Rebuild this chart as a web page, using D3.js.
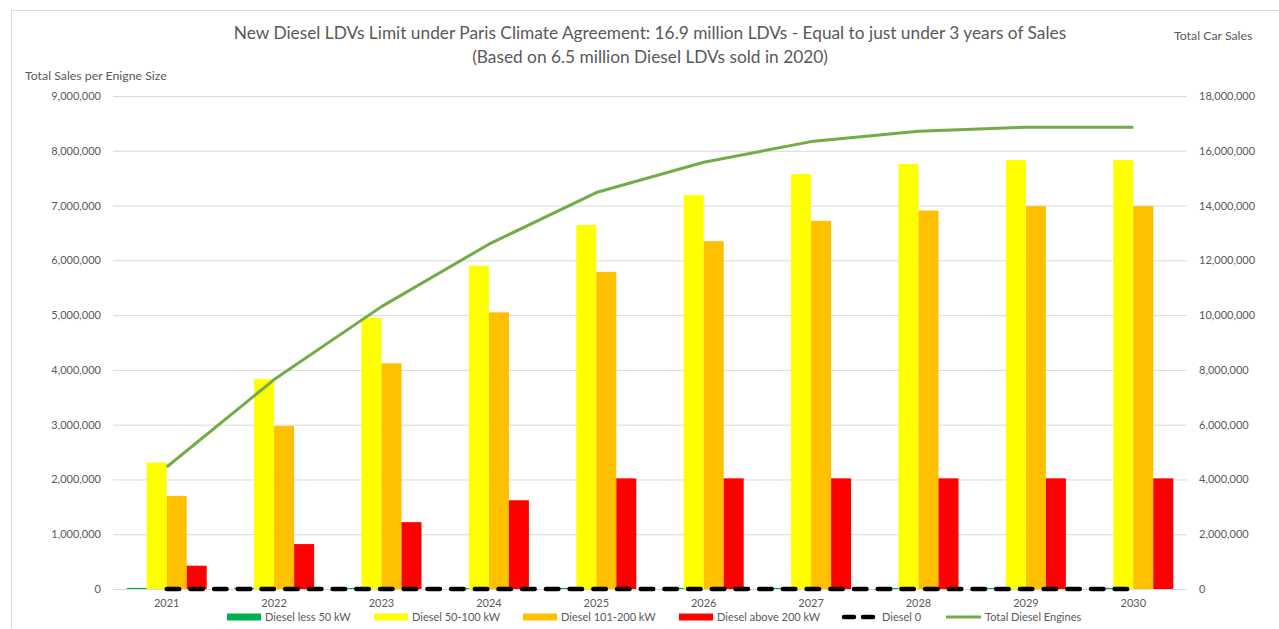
<!DOCTYPE html>
<html>
<head>
<meta charset="utf-8">
<script src="https://cdn.jsdelivr.net/npm/d3@7/dist/d3.min.js"></script>
<style>
  html, body { margin: 0; padding: 0; background: #fff; }
  svg { display: block; }
  text { font-family: Lato, "Open Sans", "DejaVu Sans", sans-serif; fill: #595959; }
</style>
</head>
<body>
<svg id="chart" width="1279" height="629"></svg>
<script>
// Model years on the category axis
const years = ["2021", "2022", "2023", "2024", "2025", "2026", "2027", "2028", "2029", "2030"];

// Cumulative new diesel LDV sales by engine power class
const dieselLess50 = [20000, 20000, 20000, 20000, 20000, 20000, 20000, 20000, 20000, 20000];
const diesel50to100 = [2310000, 3830000, 4950000, 5900000, 6645000, 7190000, 7575000, 7760000, 7830000, 7830000];
const diesel101to200 = [1700000, 2975000, 4120000, 5050000, 5790000, 6350000, 6720000, 6910000, 6990000, 6990000];
const dieselAbove200 = [425000, 820000, 1220000, 1620000, 2020000, 2020000, 2020000, 2020000, 2020000, 2020000];
const diesel0 = [0, 0, 0, 0, 0, 0, 0, 0, 0, 0];

// Cumulative total of all diesel engines (secondary axis)
const totalDiesel = [4455000, 7645000, 10310000, 12590000, 14475000, 15580000, 16335000, 16710000, 16860000, 16860000];

// Axis ticks
const leftTicks = [0, 1000000, 2000000, 3000000, 4000000, 5000000, 6000000, 7000000, 8000000, 9000000];
const rightTicks = [0, 2000000, 4000000, 6000000, 8000000, 10000000, 12000000, 14000000, 16000000, 18000000];

const titleLines = [
  "New Diesel LDVs Limit under Paris Climate Agreement: 16.9 million LDVs - Equal to just under 3 years of Sales",
  "(Based on 6.5 million Diesel LDVs sold in 2020)"
];

const barSeries = [
  { name: "Diesel less 50 kW", values: dieselLess50, color: "#00B050" },
  { name: "Diesel 50-100 kW", values: diesel50to100, color: "#FFFF00" },
  { name: "Diesel 101-200 kW", values: diesel101to200, color: "#FFC000" },
  { name: "Diesel above 200 kW", values: dieselAbove200, color: "#FF0000" }
];

const svg = d3.select("#chart");
const plot = { left: 113, right: 1187, top: 96, bottom: 589 };

// Chart frame
svg.append("rect")
  .attr("x", 11.5).attr("y", 10.5)
  .attr("width", 1300).attr("height", 700)
  .attr("fill", "none").attr("stroke", "#d9d9d9");

const x0 = d3.scaleBand().domain(years).range([plot.left, plot.right])
  .paddingInner(0.255).paddingOuter(0.1275);
const x1 = d3.scaleBand().domain(barSeries.map(s => s.name)).range([0, x0.bandwidth()]);
const yLeft = d3.scaleLinear().domain([0, 9000000]).range([plot.bottom, plot.top]);
const yRight = d3.scaleLinear().domain([0, 18000000]).range([plot.bottom, plot.top]);
const xCenter = d => x0(d) + x0.bandwidth() / 2;

// Horizontal gridlines
svg.append("g")
  .attr("transform", `translate(${plot.left},0)`)
  .call(d3.axisLeft(yLeft).tickValues(leftTicks).tickSize(-(plot.right - plot.left)).tickFormat(""))
  .call(g => g.select(".domain").remove())
  .call(g => g.selectAll("line").attr("stroke", "#d9d9d9").attr("stroke-width", 1));

// Left axis labels
svg.append("g")
  .attr("transform", `translate(${plot.left - 12},0)`)
  .call(d3.axisLeft(yLeft).tickValues(leftTicks).tickSize(0).tickPadding(0).tickFormat(d3.format(",")))
  .call(g => g.select(".domain").remove())
  .call(g => g.selectAll("text").attr("font-size", 11).attr("fill", "#595959")
    .style("font-family", "Lato, 'Open Sans', sans-serif"));

// Right axis labels
svg.append("g")
  .attr("transform", `translate(${plot.right + 12},0)`)
  .call(d3.axisRight(yRight).tickValues(rightTicks).tickSize(0).tickPadding(0).tickFormat(d3.format(",")))
  .call(g => g.select(".domain").remove())
  .call(g => g.selectAll("text").attr("font-size", 11).attr("fill", "#595959")
    .style("font-family", "Lato, 'Open Sans', sans-serif"));

// Category labels
svg.append("g")
  .attr("transform", `translate(0,${plot.bottom + 10})`)
  .call(d3.axisBottom(x0).tickSize(0).tickPadding(0))
  .call(g => g.select(".domain").remove())
  .call(g => g.selectAll("text").attr("font-size", 11).attr("fill", "#595959")
    .attr("dy", "0.71em").style("font-family", "Lato, 'Open Sans', sans-serif"));

// Clustered bars
const groups = svg.append("g").selectAll("g")
  .data(barSeries).join("g")
  .attr("fill", d => d.color);
groups.selectAll("rect")
  .data(s => s.values.map((v, i) => ({ name: s.name, year: years[i], value: v })))
  .join("rect")
  .attr("x", d => x0(d.year) + x1(d.name))
  .attr("width", x1.bandwidth())
  .attr("y", d => yLeft(d.value))
  .attr("height", d => yLeft(0) - yLeft(d.value));

// Diesel 0 dashed series
const lineLeft = d3.line().x((d, i) => xCenter(years[i])).y(d => yLeft(d));
svg.append("path")
  .datum(diesel0)
  .attr("d", lineLeft)
  .attr("fill", "none")
  .attr("stroke", "#000")
  .attr("stroke-width", 4.5)
  .attr("stroke-linecap", "round")
  .attr("stroke-dasharray", "12.5 11.2");

// Total diesel engines on the secondary axis
const lineRight = d3.line().x((d, i) => xCenter(years[i])).y(d => yRight(d));
svg.append("path")
  .datum(totalDiesel)
  .attr("d", lineRight)
  .attr("fill", "none")
  .attr("stroke", "#70AD47")
  .attr("stroke-width", 3)
  .attr("stroke-linejoin", "round");

// Title
svg.append("g").selectAll("text")
  .data(titleLines).join("text")
  .attr("x", 650)
  .attr("y", (d, i) => 39 + i * 24)
  .attr("text-anchor", "middle")
  .attr("font-size", 17.3)
  .text(d => d);

// Axis titles
svg.append("text").attr("x", 25).attr("y", 80).attr("font-size", 12.3).text("Total Sales per Enigne Size");
svg.append("text").attr("x", 1174).attr("y", 40).attr("font-size", 12.3).text("Total Car Sales");

// Legend
const legendItems = [
  { name: "Diesel less 50 kW", type: "rect", color: "#00B050", x: 227 },
  { name: "Diesel 50-100 kW", type: "rect", color: "#FFFF00", x: 374 },
  { name: "Diesel 101-200 kW", type: "rect", color: "#FFC000", x: 523 },
  { name: "Diesel above 200 kW", type: "rect", color: "#FF0000", x: 679 },
  { name: "Diesel 0", type: "dash", color: "#000", x: 842 },
  { name: "Total Diesel Engines", type: "line", color: "#70AD47", x: 946 }
];
const ly = 617;
const legend = svg.append("g").selectAll("g").data(legendItems).join("g")
  .attr("transform", d => `translate(${d.x},${ly})`);
legend.filter(d => d.type === "rect").append("rect")
  .attr("x", 0).attr("y", -3.5).attr("width", 34).attr("height", 7)
  .attr("fill", d => d.color);
legend.filter(d => d.type === "dash").append("line")
  .attr("x1", 2).attr("x2", 32).attr("y1", 0).attr("y2", 0)
  .attr("stroke", "#000").attr("stroke-width", 4.5)
  .attr("stroke-linecap", "round").attr("stroke-dasharray", "10 9");
legend.filter(d => d.type === "line").append("line")
  .attr("x1", 0).attr("x2", 35).attr("y1", 0).attr("y2", 0)
  .attr("stroke", d => d.color).attr("stroke-width", 3);
legend.append("text")
  .attr("x", d => d.type === "rect" ? 38 : (d.type === "dash" ? 40 : 39))
  .attr("y", 0).attr("dy", "0.35em")
  .attr("font-size", 11)
  .text(d => d.name);
</script>
</body>
</html>
